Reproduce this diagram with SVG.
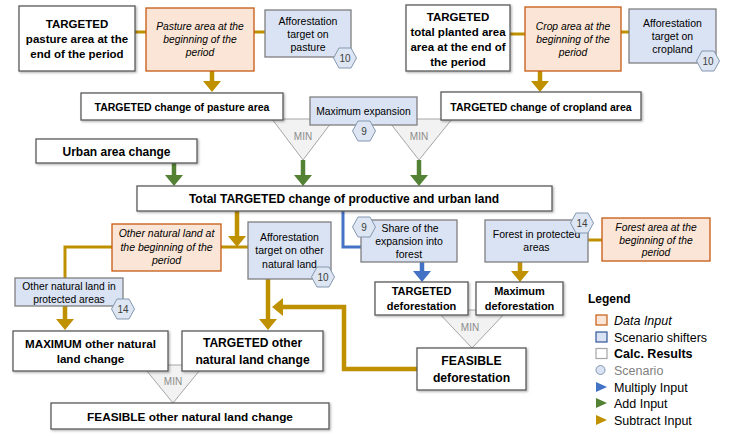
<svg xmlns="http://www.w3.org/2000/svg" width="744" height="436" viewBox="0 0 744 436">
<defs>
<style>
text{font-family:"Liberation Sans",Arial,sans-serif;fill:#000;text-anchor:middle}
.b{font-weight:bold}
.i{font-style:italic}
.calc{fill:#fff;stroke:#595959;stroke-width:1.3;filter:url(#sh)}
.data{fill:#fbe5d6;stroke:#c55a11;stroke-width:1.3}
.shift{fill:#dae3f3;stroke:#7f7f7f;stroke-width:1.3}
.hex{fill:#dde6f2;stroke:#8497b0;stroke-width:1}
.hext{font-size:10px;fill:#404040}
.min{fill:#f2f2f2;stroke:#a6a6a6;stroke-width:1}
.mint{font-size:10px;fill:#8c8c8c}
.g{stroke:#bf9000;fill:none;stroke-width:3}
.gs{stroke:#bf9000;fill:none;stroke-width:4.5;marker-end:url(#ag)}
.grs{stroke:#548235;fill:none;stroke-width:4.5;marker-end:url(#agr)}
.bl{stroke:#4472c4;fill:none;stroke-width:3}
.bls{stroke:#4472c4;fill:none;stroke-width:4.5;marker-end:url(#abl)}
.lg{text-anchor:start;font-size:12.5px}
</style>
<filter id="sh" x="-10%" y="-10%" width="120%" height="130%">
<feDropShadow dx="1.2" dy="1.2" stdDeviation="1" flood-color="#000" flood-opacity="0.3"/>
</filter>
<marker id="ag" markerUnits="userSpaceOnUse" markerWidth="11" markerHeight="18" viewBox="0 0 11 18" refX="0" refY="9" orient="auto"><path d="M0,0 L11,9 L0,18z" fill="#bf9000"/></marker>
<marker id="agr" markerUnits="userSpaceOnUse" markerWidth="11" markerHeight="18" viewBox="0 0 11 18" refX="0" refY="9" orient="auto"><path d="M0,0 L11,9 L0,18z" fill="#548235"/></marker>
<marker id="abl" markerUnits="userSpaceOnUse" markerWidth="11" markerHeight="18" viewBox="0 0 11 18" refX="0" refY="9" orient="auto"><path d="M0,0 L11,9 L0,18z" fill="#4472c4"/></marker>
<path id="hex" class="hex" d="M-11.5,0 L-6,-10 L6,-10 L11.5,0 L6,10 L-6,10 Z"/>
</defs>

<!-- MIN operators -->
<g id="min-pasture"><polygon class="min" points="272,119 334,119 303,160"/><text class="mint" x="303" y="139.5">MIN</text></g>
<g id="min-cropland"><polygon class="min" points="387,119 452,119 419,160"/><text class="mint" x="419" y="139.5">MIN</text></g>
<g id="min-deforestation"><polygon class="min" points="436,310 508,310 472,348"/><text class="mint" x="470" y="330.5">MIN</text></g>
<g id="min-othernatural"><polygon class="min" points="142,365 204,365 173,403"/><text class="mint" x="173" y="384.5">MIN</text></g>

<!-- connectors -->
<g id="connectors">
<line class="g" x1="135" y1="32" x2="146" y2="32"/>
<line class="g" x1="254" y1="32" x2="265" y2="32"/>
<line class="g" x1="510" y1="34" x2="525" y2="34"/>
<line class="g" x1="621" y1="32" x2="629" y2="32"/>
<line class="gs" x1="212" y1="71" x2="212" y2="81"/>
<line class="gs" x1="540" y1="71" x2="540" y2="81"/>
<line class="grs" x1="303" y1="160" x2="303" y2="175"/>
<line class="grs" x1="419" y1="160" x2="419" y2="175"/>
<line class="grs" x1="174" y1="163" x2="174" y2="175"/>
<polyline class="g" points="65,279 65,247 248,247"/>
<line class="gs" x1="237" y1="211" x2="237" y2="236"/>
<polyline class="bl" points="343,211 343,247 361,247"/>
<line class="bls" x1="422" y1="262" x2="422" y2="271"/>
<line class="gs" x1="520" y1="262" x2="520" y2="271"/>
<line class="g" x1="588" y1="240" x2="602" y2="240"/>
<line class="gs" x1="268" y1="279" x2="268" y2="319"/>
<polyline class="gs" points="417,369 344,369 344,307 283,307"/>
<line class="gs" x1="65" y1="306" x2="65" y2="319"/>
</g>

<!-- nodes -->
<g id="targeted-pasture-end"><rect class="calc" x="19" y="6" width="116" height="65"/>
<text class="b" font-size="11.5" x="77"><tspan x="77" y="28">TARGETED</tspan><tspan x="77" y="43">pasture area at the</tspan><tspan x="77" y="58">end of the period</tspan></text></g>
<g id="pasture-begin"><rect class="data" x="146" y="8" width="108" height="63"/>
<text class="i" font-size="10.3"><tspan x="200" y="30">Pasture area at the</tspan><tspan x="200" y="43">beginning of the</tspan><tspan x="200" y="56">period</tspan></text></g>
<g id="affor-pasture"><rect class="shift" x="265" y="10" width="86" height="47"/>
<text font-size="10.5"><tspan x="308" y="24.5">Afforestation</tspan><tspan x="308" y="37.5">target on</tspan><tspan x="308" y="51">pasture</tspan></text>
<use href="#hex" x="345" y="58"/><text class="hext" x="345" y="61.5">10</text></g>

<g id="targeted-planted-end"><rect class="calc" x="406" y="5" width="104" height="66"/>
<text class="b" font-size="11.5"><tspan x="458" y="21">TARGETED</tspan><tspan x="458" y="36">total planted area</tspan><tspan x="458" y="51">area at the end of</tspan><tspan x="458" y="66">the period</tspan></text></g>
<g id="crop-begin"><rect class="data" x="525" y="7" width="96" height="64"/>
<text class="i" font-size="10.3"><tspan x="573" y="30">Crop area at the</tspan><tspan x="573" y="43">beginning of the</tspan><tspan x="573" y="56">period</tspan></text></g>
<g id="affor-cropland"><rect class="shift" x="629" y="9" width="87" height="54"/>
<text font-size="10.5"><tspan x="672.5" y="26.5">Afforestation</tspan><tspan x="672.5" y="40">target on</tspan><tspan x="672.5" y="53">cropland</tspan></text>
<use href="#hex" x="708" y="61"/><text class="hext" x="708" y="64.5">10</text></g>

<g id="targeted-change-pasture"><rect class="calc" x="81" y="93" width="202" height="27"/>
<text class="b" font-size="10.5" x="182" y="111">TARGETED change of pasture area</text></g>
<g id="max-expansion"><rect class="shift" x="310" y="97" width="107" height="28"/>
<text font-size="10.3" x="363.5" y="115">Maximum expansion</text>
<use href="#hex" x="364" y="131"/><text class="hext" x="364" y="134.5">9</text></g>
<g id="targeted-change-cropland"><rect class="calc" x="441" y="92" width="200" height="28"/>
<text class="b" font-size="10.5" x="541" y="111">TARGETED change of cropland area</text></g>

<g id="urban-change"><rect class="calc" x="36" y="139" width="161" height="24"/>
<text class="b" font-size="12" x="116.5" y="155.5">Urban area change</text></g>
<g id="total-change"><rect class="calc" x="137" y="186" width="415" height="25"/>
<text class="b" font-size="12" x="344" y="203">Total TARGETED change of productive and urban land</text></g>

<g id="othernatural-begin"><rect class="data" x="112" y="224" width="109" height="47"/>
<text class="i" font-size="10.5"><tspan x="166.5" y="237">Other natural land at</tspan><tspan x="166.5" y="251">the beginning of the</tspan><tspan x="166.5" y="264">period</tspan></text></g>
<g id="affor-othernatural"><rect class="shift" x="248" y="222" width="83" height="57"/>
<text font-size="10.5"><tspan x="289.5" y="241">Afforestation</tspan><tspan x="289.5" y="254">target on other</tspan><tspan x="289.5" y="268">natural land</tspan></text>
<use href="#hex" x="323" y="277"/><text class="hext" x="323" y="280.5">10</text></g>
<g id="share-expansion-forest"><rect class="shift" x="361" y="220" width="96" height="42"/>
<text font-size="10.5"><tspan x="410" y="232">Share of the</tspan><tspan x="409" y="245">expansion into</tspan><tspan x="409" y="258">forest</tspan></text>
<use href="#hex" x="364" y="227"/><text class="hext" x="364" y="230.5">9</text></g>
<g id="forest-protected"><rect class="shift" x="485" y="220" width="103" height="42"/>
<text font-size="10.5"><tspan x="536.5" y="238">Forest in protected</tspan><tspan x="536.5" y="251">areas</tspan></text>
<use href="#hex" x="582" y="223"/><text class="hext" x="582" y="226.5">14</text></g>
<g id="forest-begin"><rect class="data" x="602" y="218" width="108" height="43"/>
<text class="i" font-size="10.3"><tspan x="656" y="231">Forest area at the</tspan><tspan x="656" y="243.5">beginning of the</tspan><tspan x="656" y="256">period</tspan></text></g>

<g id="othernatural-protected"><rect class="shift" x="15" y="278" width="108" height="28"/>
<text font-size="10.3"><tspan x="69" y="290">Other natural land in</tspan><tspan x="69" y="303">protected areas</tspan></text>
<use href="#hex" x="123" y="309"/><text class="hext" x="123" y="312.5">14</text></g>

<g id="targeted-deforestation"><rect class="calc" x="375" y="282" width="93" height="33"/>
<text class="b" font-size="11"><tspan x="421.5" y="295">TARGETED</tspan><tspan x="421.5" y="310">deforestation</tspan></text></g>
<g id="max-deforestation"><rect class="calc" x="476" y="282" width="87" height="33"/>
<text class="b" font-size="11"><tspan x="519.5" y="295">Maximum</tspan><tspan x="519.5" y="310">deforestation</tspan></text></g>
<g id="feasible-deforestation"><rect class="calc" x="417" y="348" width="109" height="42"/>
<text class="b" font-size="12.2"><tspan x="471.5" y="365">FEASIBLE</tspan><tspan x="471.5" y="382">deforestation</tspan></text></g>

<g id="max-othernatural"><rect class="calc" x="13" y="331" width="155" height="40"/>
<text class="b" font-size="11.6"><tspan x="90.5" y="348">MAXIMUM other natural</tspan><tspan x="90.5" y="363">land change</tspan></text></g>
<g id="targeted-othernatural"><rect class="calc" x="182" y="331" width="141" height="40"/>
<text class="b" font-size="12.1"><tspan x="252.5" y="346.5">TARGETED other</tspan><tspan x="252.5" y="363.5">natural land change</tspan></text></g>
<g id="feasible-othernatural"><rect class="calc" x="51" y="403" width="278" height="26"/>
<text class="b" font-size="11.8" x="190" y="421">FEASIBLE other natural land change</text></g>

<!-- legend -->
<g id="legend">
<text class="b" font-size="12" x="588" y="303" style="text-anchor:start">Legend</text>
<rect x="596" y="315" width="11" height="10" fill="#fbe5d6" stroke="#c55a11" stroke-width="1.2"/>
<text class="lg i" x="614" y="324.5">Data Input</text>
<rect x="596" y="332" width="11" height="10" fill="#dae3f3" stroke="#2f5597" stroke-width="1.2"/>
<text class="lg" x="614" y="341.5">Scenario shifters</text>
<rect x="596" y="348.5" width="11" height="10" fill="#fff" stroke="#a6a6a6" stroke-width="1.2"/>
<text class="lg b" x="614" y="358">Calc. Results</text>
<circle cx="600.5" cy="370" r="4.5" fill="#dae3f3" stroke="#8497b0" stroke-width="1"/>
<text class="lg" x="614" y="374.5" style="fill:#7f7f7f">Scenario</text>
<polygon points="596,382 607,387 596,392" fill="#4472c4"/>
<text class="lg" x="614" y="391.5">Multiply Input</text>
<polygon points="596,398 607,403 596,408" fill="#548235"/>
<text class="lg" x="614" y="407.5">Add Input</text>
<polygon points="596,415 607,420 596,425" fill="#bf9000"/>
<text class="lg" x="614" y="424.5">Subtract Input</text>
</g>
</svg>
